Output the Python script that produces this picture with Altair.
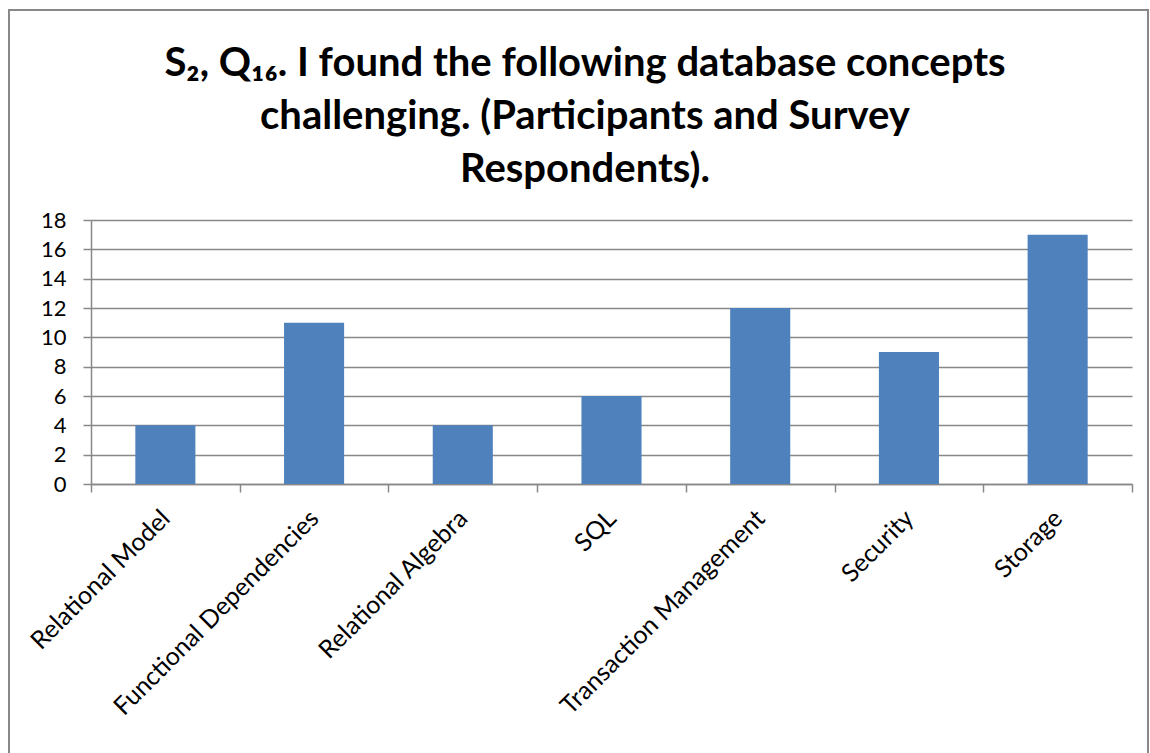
import altair as alt
import pandas as pd

CATEGORIES = ["Relational Model", "Functional Dependencies", "Relational Algebra",
              "SQL", "Transaction Management", "Security", "Storage"]
VALUES = [4, 11, 4, 6, 12, 9, 17]
Y_TICKS = [0, 2, 4, 6, 8, 10, 12, 14, 16, 18]
TITLE_LINES = ["S\u2082, Q\u2081\u2086. I found the following database concepts",
               "challenging. (Participants and Survey",
               "Respondents)."]

df = pd.DataFrame({"concept": CATEGORIES, "count": VALUES})
one = pd.DataFrame({"k": [0]})

W, H = 1041, 264
LEFT, TOP = 91, 220
GRAY = "#888888"
FONT = "Lato"

bars = alt.Chart(df).mark_bar(color="#4F81BD", width=alt.RelativeBandSize(0.404)).encode(
    x=alt.X("concept:N", sort=CATEGORIES, title=None,
            scale=alt.Scale(paddingInner=0, paddingOuter=0),
            axis=alt.Axis(labelAngle=-45, labelAlign="right", labelBaseline="middle",
                          labelPadding=22, labelFont=FONT, labelFontSize=25,
                          labelColor="#000000", labelLimit=0, tickBand="extent", tickSize=8,
                          tickColor=GRAY, tickWidth=1.5, domainColor=GRAY,
                          domainWidth=1.5, grid=False, labelOverlap=False)),
    y=alt.Y("count:Q", title=None,
            scale=alt.Scale(domain=[0, 18], nice=False),
            axis=alt.Axis(values=Y_TICKS, labelFont=FONT, labelFontSize=22,
                          labelColor="#000000", labelPadding=17, tickSize=8,
                          tickColor=GRAY, tickWidth=1.5, domainColor=GRAY,
                          domainWidth=1.5, gridColor=GRAY, gridWidth=1.5)),
)

border = alt.Chart(one).mark_rect(fill=None, stroke=GRAY, strokeWidth=2).encode(
    x=alt.value(9 - LEFT), x2=alt.value(1148 - LEFT),
    y=alt.value(10 - TOP), y2=alt.value(780 - TOP),
)

title = alt.Chart(one).mark_text(
    text=TITLE_LINES, font=FONT, fontSize=40, fontWeight="bold", color="#000000",
    align="center", baseline="alphabetic", lineHeight=53,
).encode(x=alt.value(585 - LEFT), y=alt.value(76 - TOP))

chart = alt.layer(border, bars, title).properties(
    width=W, height=H,
    autosize=alt.AutoSizeParams(type="none"),
    padding={"left": LEFT, "top": TOP, "right": 1150 - LEFT - W, "bottom": 753 - TOP - H},
    background="#ffffff",
).configure_view(stroke=None)

chart.save("out.html", embed_options={"renderer": "svg", "actions": False})
